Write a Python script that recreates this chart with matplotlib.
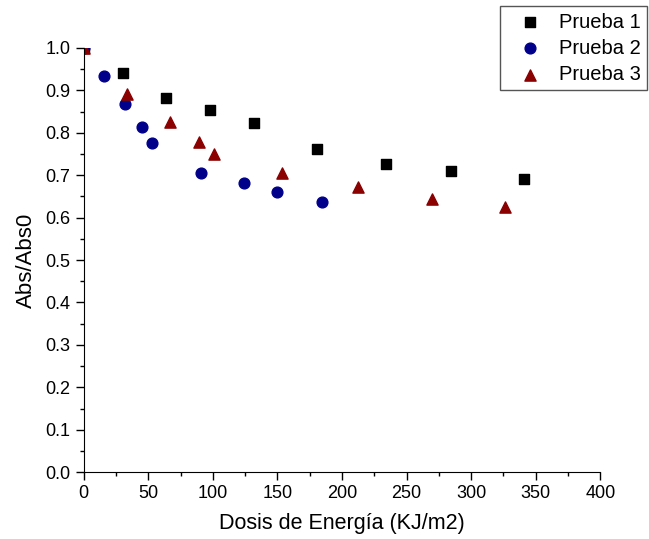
import matplotlib.pyplot as plt
from matplotlib.ticker import MultipleLocator

plt.rcParams['font.family'] = ['Liberation Sans', 'DejaVu Sans']

# Prueba 1 (squares)
dose_1 = [0, 30.5, 64, 98, 131.5, 181, 234, 284.5, 341]
abs_1 = [1.0, 0.942, 0.882, 0.853, 0.823, 0.762, 0.727, 0.711, 0.692]

# Prueba 2 (circles)
dose_2 = [0, 15.5, 32, 45, 53, 90.5, 124, 149.5, 184.5]
abs_2 = [1.0, 0.934, 0.867, 0.813, 0.776, 0.705, 0.682, 0.660, 0.638]

# Prueba 3 (triangles)
dose_3 = [0, 33.5, 66.5, 89, 100.5, 153.5, 212.5, 270, 326]
abs_3 = [1.0, 0.891, 0.826, 0.779, 0.751, 0.705, 0.672, 0.644, 0.626]

labels = ['Prueba 1', 'Prueba 2', 'Prueba 3']

fig = plt.figure(figsize=(6.49, 5.39), dpi=100)
ax = fig.add_axes([0.129, 0.124, 0.796, 0.787])

ax.scatter(dose_1, abs_1, s=55, marker='s', color='black', label=labels[0])
ax.scatter(dose_2, abs_2, s=60, marker='o', color='#00008B', label=labels[1])
ax.scatter(dose_3, abs_3, s=65, marker='^', color='#8B0000', label=labels[2])

ax.set_xlim(0, 400)
ax.set_ylim(0, 1.0)
ax.xaxis.set_major_locator(MultipleLocator(50))
ax.xaxis.set_minor_locator(MultipleLocator(25))
ax.yaxis.set_major_locator(MultipleLocator(0.1))
ax.yaxis.set_minor_locator(MultipleLocator(0.05))
ax.yaxis.set_major_formatter(plt.FormatStrFormatter('%.1f'))

for side in ['top', 'right']:
    ax.spines[side].set_visible(False)
ax.tick_params(which='major', direction='out', length=6, width=1, labelsize=13)
ax.tick_params(which='minor', direction='out', length=3, width=1)

ax.set_xlabel('Dosis de Energía (KJ/m2)', fontsize=15.5, labelpad=8)
ax.set_ylabel('Abs/Abs0', fontsize=16, labelpad=6)

# legend box sits against the right edge like in the original
fig.legend(loc='upper left', bbox_to_anchor=(0.7704, 0.988), fontsize=14.5,
           frameon=True, fancybox=False, edgecolor='#555555', framealpha=1,
           handlelength=2.4, handletextpad=0.25, borderpad=0.3,
           borderaxespad=0, labelspacing=0.36, scatterpoints=1)

fig.savefig('out.png', dpi=100)
